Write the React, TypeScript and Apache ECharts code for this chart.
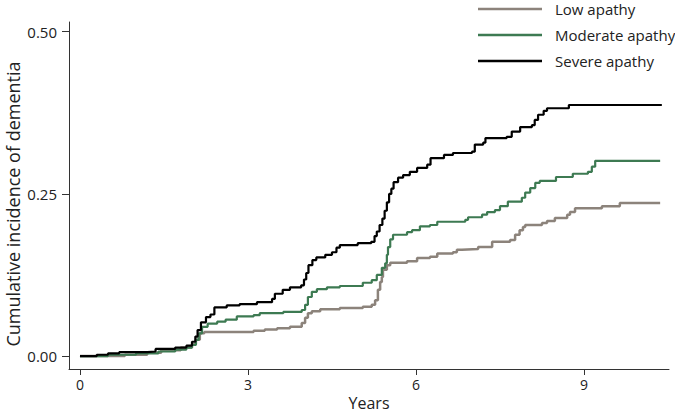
import React, { useEffect, useRef } from "react";
import * as echarts from "echarts";

const seriesNames = ["Low apathy", "Moderate apathy", "Severe apathy"];
const seriesColors = ["#8c837b", "#3d7a52", "#000000"];

const xTicks = [0, 3, 6, 9];
const yTicks = [0, 0.25, 0.5];

// [years, cumulative incidence] — level starting at that time
const lowApathy: [number, number][] = [
  [0, 0], [0.8, 0.002], [1.2, 0.005], [1.45, 0.009], [1.8, 0.013], [2.0, 0.018],
  [2.07, 0.025], [2.14, 0.035], [2.22, 0.037], [3.1, 0.039], [3.3, 0.041], [3.52, 0.043],
  [3.75, 0.045], [3.96, 0.051], [4.02, 0.059], [4.07, 0.066], [4.14, 0.069], [4.29, 0.072],
  [4.64, 0.074], [5.05, 0.076], [5.21, 0.079], [5.27, 0.086], [5.32, 0.102], [5.36, 0.114],
  [5.39, 0.122], [5.41, 0.133], [5.48, 0.14], [5.54, 0.144], [5.84, 0.146], [6.02, 0.151],
  [6.25, 0.153], [6.38, 0.158], [6.66, 0.16], [6.73, 0.164], [6.82, 0.165], [7.11, 0.168],
  [7.36, 0.176], [7.68, 0.179], [7.77, 0.187], [7.85, 0.194], [7.91, 0.199], [7.95, 0.202],
  [8.25, 0.205], [8.34, 0.208], [8.48, 0.213], [8.7, 0.218], [8.75, 0.222], [8.84, 0.228],
  [9.32, 0.231], [9.64, 0.236], [10.36, 0.236],
];

const moderateApathy: [number, number][] = [
  [0, 0], [0.5, 0.002], [1.0, 0.004], [1.4, 0.007], [1.7, 0.01], [1.9, 0.013], [2.0, 0.017],
  [2.07, 0.025], [2.12, 0.035], [2.18, 0.045], [2.28, 0.05], [2.45, 0.053], [2.6, 0.056],
  [2.8, 0.061], [3.1, 0.063], [3.21, 0.066], [3.63, 0.068], [3.96, 0.071], [4.02, 0.079],
  [4.07, 0.091], [4.14, 0.099], [4.23, 0.103], [4.41, 0.106], [4.64, 0.108], [5.05, 0.113],
  [5.21, 0.117], [5.3, 0.125], [5.39, 0.136], [5.45, 0.143], [5.48, 0.156], [5.5, 0.168],
  [5.54, 0.18], [5.59, 0.187], [5.84, 0.191], [5.93, 0.194], [6.07, 0.2], [6.25, 0.202],
  [6.38, 0.207], [6.88, 0.21], [6.93, 0.214], [7.18, 0.218], [7.27, 0.222], [7.41, 0.225],
  [7.5, 0.231], [7.64, 0.238], [7.89, 0.244], [7.95, 0.252], [8.04, 0.259], [8.13, 0.267],
  [8.21, 0.27], [8.5, 0.276], [8.8, 0.281], [9.07, 0.284], [9.14, 0.292], [9.2, 0.301],
  [10.36, 0.302],
];

const severeApathy: [number, number][] = [
  [0, 0], [0.3, 0.002], [0.5, 0.004], [0.7, 0.006], [1.2, 0.007], [1.35, 0.011], [1.7, 0.013],
  [1.9, 0.016], [2.0, 0.022], [2.06, 0.03], [2.1, 0.04], [2.16, 0.052], [2.25, 0.06],
  [2.33, 0.064], [2.4, 0.075], [2.62, 0.078], [2.85, 0.08], [3.16, 0.083], [3.43, 0.088],
  [3.48, 0.096], [3.62, 0.102], [3.75, 0.106], [3.95, 0.109], [4.0, 0.118], [4.04, 0.128],
  [4.08, 0.14], [4.15, 0.148], [4.22, 0.152], [4.38, 0.156], [4.5, 0.16], [4.58, 0.167],
  [4.64, 0.171], [4.96, 0.174], [5.2, 0.176], [5.26, 0.185], [5.3, 0.192], [5.35, 0.202],
  [5.4, 0.212], [5.44, 0.224], [5.48, 0.237], [5.52, 0.25], [5.56, 0.258], [5.6, 0.268],
  [5.68, 0.275], [5.77, 0.279], [5.89, 0.284], [6.02, 0.29], [6.2, 0.295], [6.26, 0.305],
  [6.5, 0.31], [6.66, 0.313], [7.0, 0.315], [7.05, 0.326], [7.2, 0.329], [7.24, 0.336],
  [7.62, 0.338], [7.71, 0.346], [7.86, 0.353], [8.07, 0.356], [8.12, 0.364], [8.18, 0.372],
  [8.28, 0.378], [8.34, 0.382], [8.73, 0.387], [10.39, 0.387],
];

const allSeries = [lowApathy, moderateApathy, severeApathy];
const lineWidths = [2.5, 2.2, 2.2];

const FONT = "'Open Sans', 'Noto Sans', sans-serif";

export default function App() {
  const ref = useRef<HTMLDivElement>(null);
  useEffect(() => {
    if (!ref.current) return;
    const chart = echarts.init(ref.current, undefined, { renderer: "svg" });
    chart.setOption({
      animation: false,
      backgroundColor: "#ffffff",
      textStyle: { fontFamily: FONT },
      grid: { left: 69, right: 6, top: 22, bottom: 46, outerBoundsMode: "none", containLabel: false },
      legend: {
        orient: "vertical",
        left: 478,
        top: 1,
        padding: 0,
        icon: "rect",
        itemWidth: 64,
        itemHeight: 2.5,
        itemGap: 10,
        data: seriesNames,
        textStyle: {
          fontSize: 15,
          lineHeight: 16,
          color: "#222",
          fontFamily: FONT,
          padding: [0, 0, 0, 8],
        },
      },
      xAxis: {
        type: "value",
        min: -0.196,
        max: 10.518,
        name: "Years",
        nameLocation: "middle",
        nameGap: 26,
        nameMoveOverlap: false,
        nameTextStyle: { fontSize: 16, color: "#222", fontFamily: FONT },
        axisLine: { onZero: false, lineStyle: { color: "#333", width: 1 } },
        axisTick: { show: true, length: 6, customValues: xTicks, lineStyle: { color: "#333" } },
        axisLabel: { customValues: xTicks, fontSize: 14, color: "#222", margin: 8, fontFamily: FONT },
        splitLine: { show: false },
      },
      yAxis: {
        type: "value",
        min: -0.02,
        max: 0.515,
        name: "Cumulative incidence of dementia",
        nameLocation: "middle",
        nameGap: 47,
        nameMoveOverlap: false,
        nameTextStyle: { fontSize: 18, color: "#222", fontFamily: FONT, padding: [0, 17, 0, 0] },
        axisLine: { onZero: false, lineStyle: { color: "#333", width: 1 } },
        axisTick: { show: true, length: 7, customValues: yTicks, lineStyle: { color: "#333" } },
        axisLabel: {
          customValues: yTicks,
          fontSize: 15,
          color: "#222",
          margin: 12,
          fontFamily: FONT,
          formatter: (v: number) => v.toFixed(2),
        },
        splitLine: { show: false },
      },
      series: allSeries.map((d, i) => ({
        name: seriesNames[i],
        type: "line",
        step: "end",
        symbol: "none",
        data: d,
        color: seriesColors[i],
        lineStyle: { color: seriesColors[i], width: lineWidths[i] },
        z: i + 2,
      })),
    });
    return () => chart.dispose();
  }, []);
  return (
    <div
      ref={ref}
      style={{ position: "fixed", left: 0, top: 0, width: 675, height: 415, background: "#fff" }}
    />
  );
}
